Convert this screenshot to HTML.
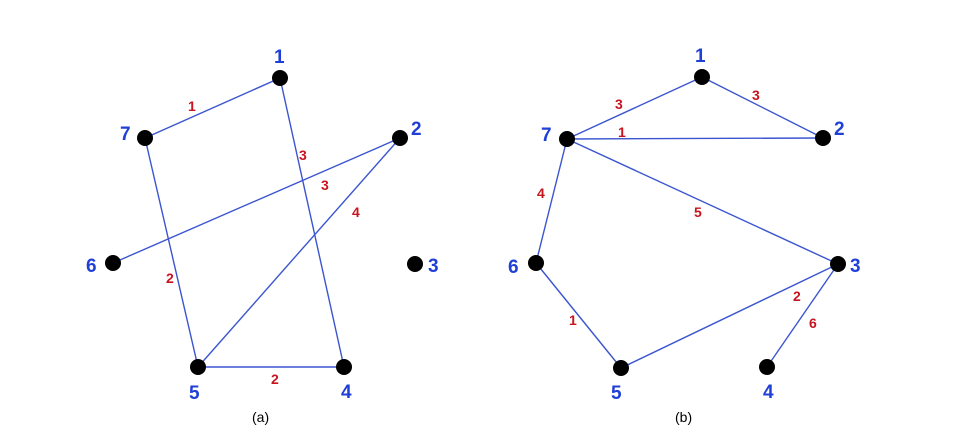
<!DOCTYPE html>
<html><head><style>
html,body{margin:0;padding:0;background:#fff;}
svg{display:block;}
.n{font-family:"Liberation Sans",sans-serif;font-weight:bold;font-size:19px;fill:#1f3fd6;}
.e{font-family:"Liberation Sans",sans-serif;font-weight:bold;font-size:14px;fill:#c8141e;}
.c{font-family:"Liberation Sans",sans-serif;font-size:14px;fill:#000;}
line{stroke:#3b55d0;stroke-width:1.4;}
</style></head><body>
<svg width="976" height="441" viewBox="0 0 976 441">
<!-- left graph -->
<line x1="280" y1="78" x2="145" y2="138"/>
<line x1="280" y1="78" x2="344" y2="367"/>
<line x1="145" y1="138" x2="198" y2="367"/>
<line x1="400" y1="138" x2="113" y2="263"/>
<line x1="400" y1="138" x2="198" y2="367"/>
<line x1="198" y1="367" x2="344" y2="367"/>
<g fill="#000">
<circle cx="280" cy="78" r="8"/><circle cx="145" cy="138" r="8"/><circle cx="400" cy="138" r="8"/>
<circle cx="113" cy="263" r="8"/><circle cx="415" cy="264" r="8"/><circle cx="198" cy="367" r="8"/><circle cx="344" cy="367" r="8"/>
</g>
<text class="n" x="274" y="63">1</text>
<text class="n" x="120" y="140">7</text>
<text class="n" x="411" y="135">2</text>
<text class="n" x="86" y="272">6</text>
<text class="n" x="428" y="272">3</text>
<text class="n" x="189" y="399">5</text>
<text class="n" x="341" y="398">4</text>
<text class="e" x="188" y="111">1</text>
<text class="e" x="299" y="160">3</text>
<text class="e" x="321" y="190">3</text>
<text class="e" x="352" y="217">4</text>
<text class="e" x="166" y="283">2</text>
<text class="e" x="271" y="384">2</text>
<text class="c" x="252" y="422">(a)</text>
<!-- right graph -->
<line x1="702" y1="77" x2="567" y2="139"/>
<line x1="702" y1="77" x2="823" y2="138"/>
<line x1="567" y1="139" x2="823" y2="138"/>
<line x1="567" y1="139" x2="536" y2="263"/>
<line x1="567" y1="139" x2="838" y2="264"/>
<line x1="536" y1="263" x2="621" y2="368"/>
<line x1="621" y1="368" x2="838" y2="264"/>
<line x1="838" y1="264" x2="767" y2="367"/>
<g fill="#000">
<circle cx="702" cy="77" r="8"/><circle cx="567" cy="139" r="8"/><circle cx="823" cy="138" r="8"/>
<circle cx="536" cy="263" r="8"/><circle cx="838" cy="264" r="8"/><circle cx="621" cy="368" r="8"/><circle cx="767" cy="367" r="8"/>
</g>
<text class="n" x="695" y="62">1</text>
<text class="n" x="541" y="141">7</text>
<text class="n" x="834" y="135">2</text>
<text class="n" x="508" y="273">6</text>
<text class="n" x="850" y="272">3</text>
<text class="n" x="611" y="399">5</text>
<text class="n" x="763" y="398">4</text>
<text class="e" x="615" y="109">3</text>
<text class="e" x="752" y="100">3</text>
<text class="e" x="618" y="137">1</text>
<text class="e" x="537" y="198">4</text>
<text class="e" x="694" y="217">5</text>
<text class="e" x="793" y="301">2</text>
<text class="e" x="809" y="328">6</text>
<text class="e" x="569" y="325">1</text>
<text class="c" x="675" y="422">(b)</text>
</svg>
</body></html>
